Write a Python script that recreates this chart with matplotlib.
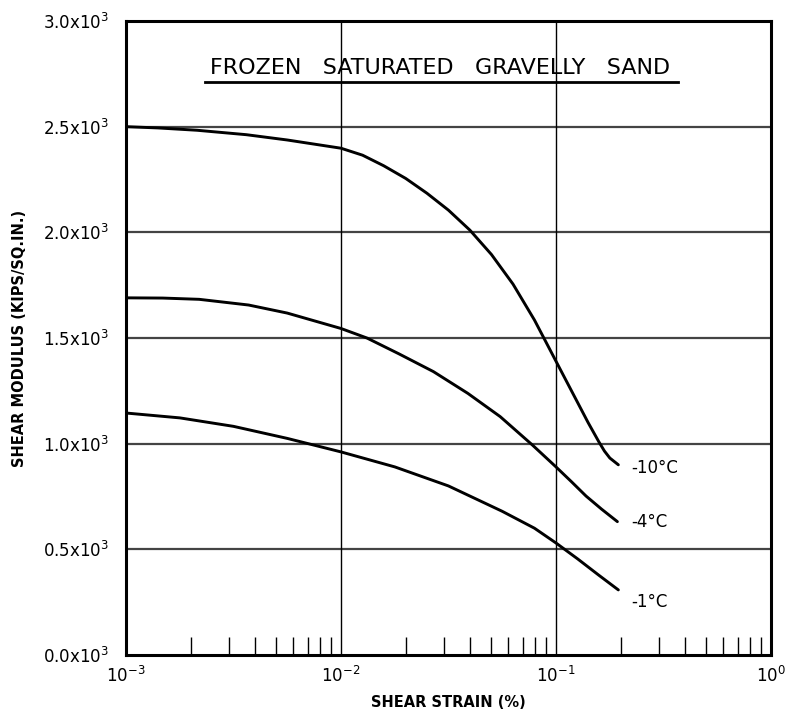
import matplotlib.pyplot as plt
from matplotlib.ticker import FixedLocator, NullFormatter

plt.rcParams['font.family'] = ['DejaVu Sans']

# shear strain (%) and shear modulus (kips/sq.in.)
strain_10 = [0.001, 0.00141, 0.00214, 0.00363, 0.00562, 0.01, 0.0126, 0.0158, 0.02, 0.0251, 0.0316,
             0.0398, 0.0501, 0.0631, 0.0794, 0.1, 0.126, 0.141, 0.158, 0.168, 0.178, 0.195]
modulus_10 = [2500, 2494, 2483, 2462, 2437, 2398, 2365, 2315, 2255, 2185, 2105,
              2010, 1895, 1755, 1585, 1390, 1195, 1100, 1010, 965, 932, 900]

strain_4 = [0.001, 0.00148, 0.00219, 0.00372, 0.00562, 0.01, 0.0132, 0.0186, 0.0269, 0.0389,
            0.055, 0.0776, 0.1, 0.118, 0.138, 0.163, 0.193]
modulus_4 = [1690, 1689, 1683, 1656, 1618, 1545, 1500, 1425, 1341, 1238,
             1128, 994, 890, 820, 752, 690, 631]

strain_1 = [0.001, 0.00178, 0.00316, 0.00562, 0.01, 0.0178, 0.0316, 0.0562, 0.0794, 0.1,
            0.126, 0.158, 0.195]
modulus_1 = [1145, 1122, 1082, 1025, 961, 890, 800, 680, 600, 530,
             455, 378, 308]

curve_labels = ['-10°C', '-4°C', '-1°C']
label_y = [885, 630, 250]
ytick_vals = [0, 500, 1000, 1500, 2000, 2500, 3000]
ytick_text = ['0.0x10$^3$', '0.5x10$^3$', '1.0x10$^3$', '1.5x10$^3$',
              '2.0x10$^3$', '2.5x10$^3$', '3.0x10$^3$']
xtick_vals = [1e-3, 1e-2, 1e-1, 1e0]
xtick_text = [r'10$^{-3}$', r'10$^{-2}$', r'10$^{-1}$', r'10$^{0}$']

fig = plt.figure(figsize=(7.92, 7.17), dpi=100)
ax = fig.add_axes([126/792, 62/717, 645/792, 634/717])

ax.set_xscale('log')
ax.set_xlim(1e-3, 1)
ax.set_ylim(0, 3000)

# grid
for v in ytick_vals[1:-1]:
    ax.axhline(v, color='#444444', lw=1.6, zorder=1)
for v in xtick_vals[1:-1]:
    ax.axvline(v, color='black', lw=1.0, zorder=1)

for s, m in [(strain_10, modulus_10), (strain_4, modulus_4), (strain_1, modulus_1)]:
    ax.plot(s, m, color='black', lw=2.1, solid_capstyle='round', solid_joinstyle='round', zorder=3)

# curve labels at the line ends
for y, lab in zip(label_y, curve_labels):
    ax.text(0.225, y, lab, fontsize=12, va='center', ha='left')

for sp in ax.spines.values():
    sp.set_linewidth(2.2)

ax.xaxis.set_major_locator(FixedLocator(xtick_vals))
ax.set_xticklabels(xtick_text, fontsize=12)
ax.xaxis.set_minor_locator(FixedLocator([k * 10.0**e for e in (-3, -2, -1) for k in range(2, 10)]))
ax.xaxis.set_minor_formatter(NullFormatter())
ax.tick_params(axis='x', which='major', length=0, pad=8)
ax.tick_params(axis='x', which='minor', direction='in', length=13, width=1.0, color='black')

ax.yaxis.set_major_locator(FixedLocator(ytick_vals))
ax.set_yticklabels(ytick_text, fontsize=12)
ax.tick_params(axis='y', which='both', length=0, pad=12)

ax.set_xlabel('SHEAR STRAIN (%)', fontsize=10.5, fontweight='bold', labelpad=6)
ax.set_ylabel('SHEAR MODULUS (KIPS/SQ.IN.)', fontsize=10.5, fontweight='bold', labelpad=12)

ax.text(0.487, 0.926, 'FROZEN   SATURATED   GRAVELLY   SAND', transform=ax.transAxes,
        fontsize=16, ha='center', va='center')
ax.plot([0.1225, 0.856], [0.903, 0.903], transform=ax.transAxes, color='black', lw=2.0, zorder=4)

fig.savefig('out.png', dpi=100)
